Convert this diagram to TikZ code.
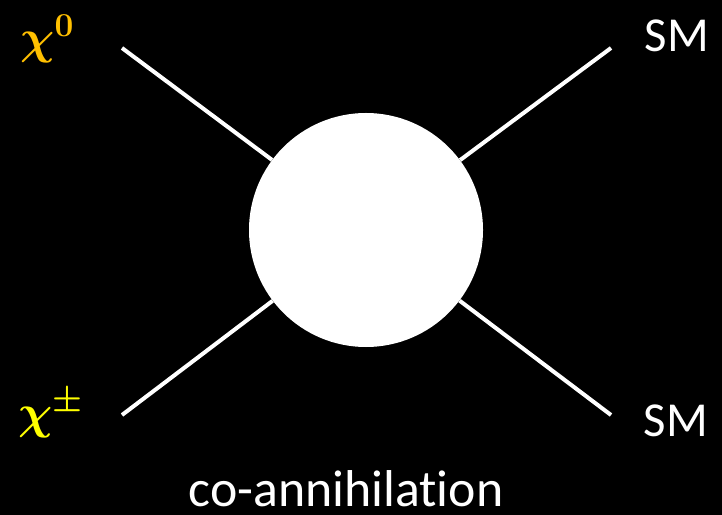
\RequirePackage{fix-cm}
\documentclass[tikz,border=0pt]{standalone}
\usepackage{amsmath,amssymb,bm}
\usepackage{fontspec}
\setmainfont{Carlito}[Ligatures=NoCommon]
\usepackage{tikz}
\usetikzlibrary{positioning}
\definecolor{chigold}{RGB}{255,192,0}
\definecolor{chiyellow}{RGB}{255,255,0}
\tikzset{
  leg/.style={white, line width=4bp},
  blob/.style={circle, fill=white, draw=none, minimum size=234bp, inner sep=0pt},
  partlab/.style={text=white, inner sep=0pt, anchor=base, font=\fontsize{49}{52}\selectfont},
  chilab/.style={inner sep=0pt, anchor=base west, font=\fontsize{48}{52}\selectfont\boldmath},
  caption/.style={text=white, inner sep=0pt, anchor=base, font=\fontsize{52}{56}\selectfont},
}
\begin{document}
\begin{tikzpicture}[x=1bp,y=-1bp]
  \fill[black] (0,0) rectangle (722,515);
  \path[use as bounding box] (0,0) rectangle (722,515);

  % Vertex blob.
  \node[blob] (vertex) at (366,230) {};

  % Leg ends.
  \coordinate (inA) at (122,48);
  \coordinate (inB) at (122,415);
  \coordinate (outA) at (611,48);
  \coordinate (outB) at (611,415);

  \draw[leg] (inA) -- (vertex);
  \draw[leg] (inB) -- (vertex);
  \draw[leg] (outA) -- (vertex);
  \draw[leg] (outB) -- (vertex);

  % Particle labels.
  \node[chilab, text=chigold] (chizero) at (20,54) {$\chi^{0}$};
  \node[chilab, text=chiyellow] (chipm) at (18,428) {$\chi^{\pm}$};
  \node[partlab] (smA) at (677,52) {SM};
  \node[partlab] (smB) at (676,436) {SM};

  \node[caption] (process) at (346,506) {co-annihilation};
\end{tikzpicture}
\end{document}
